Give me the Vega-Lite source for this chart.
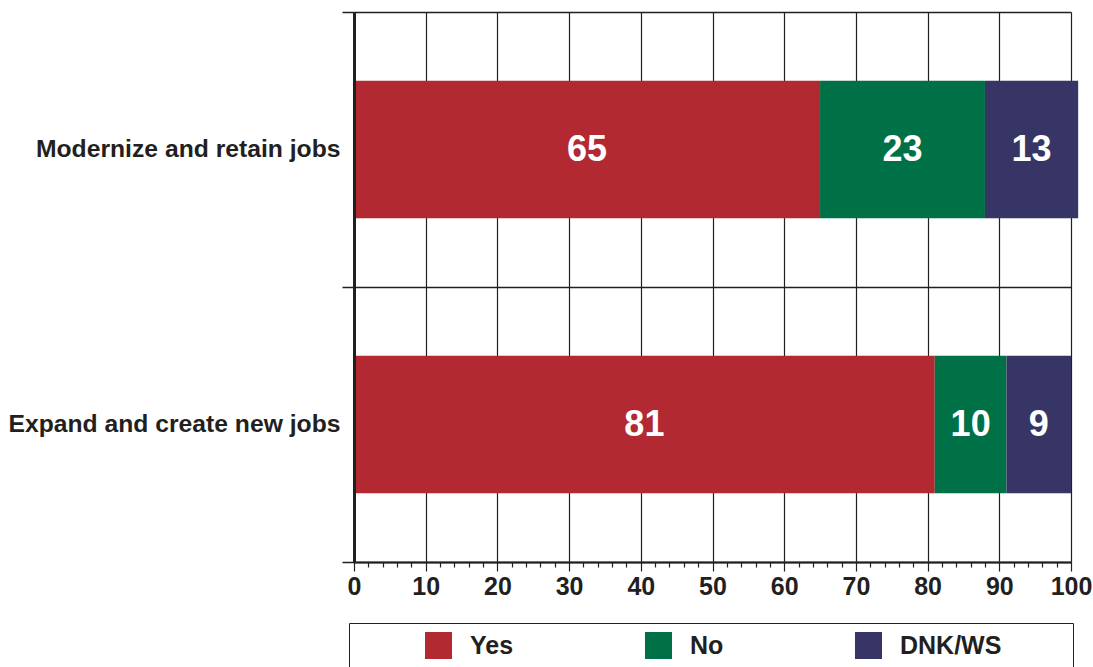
{
  "$schema": "https://vega.github.io/schema/vega-lite/v6.json",
  "autosize": "none",
  "width": 717,
  "height": 550,
  "padding": {"left": 354, "top": 12, "right": 22, "bottom": 105},
  "background": "white",
  "data": {
    "values": [
      {"item": "Modernize and retain jobs", "response": "Yes", "order": 1, "value": 65},
      {"item": "Modernize and retain jobs", "response": "No", "order": 2, "value": 23},
      {"item": "Modernize and retain jobs", "response": "DNK/WS", "order": 3, "value": 13},
      {"item": "Expand and create new jobs", "response": "Yes", "order": 1, "value": 81},
      {"item": "Expand and create new jobs", "response": "No", "order": 2, "value": 10},
      {"item": "Expand and create new jobs", "response": "DNK/WS", "order": 3, "value": 9}
    ]
  },
  "transform": [
    {"stack": "value", "groupby": ["item"], "sort": [{"field": "order"}], "as": ["x0", "x1"]},
    {"calculate": "(datum.x0 + datum.x1) / 2", "as": "mid"}
  ],
  "config": {
    "view": {"stroke": null},
    "font": "Liberation Sans"
  },
  "layer": [
    {
      "mark": {"type": "bar", "height": {"band": 0.5}, "clip": false},
      "encoding": {
        "y": {
          "field": "item", "type": "nominal",
          "sort": ["Modernize and retain jobs", "Expand and create new jobs"],
          "scale": {"paddingInner": 0, "paddingOuter": 0},
          "axis": {
            "title": null, "tickBand": "extent", "grid": true, "gridColor": "#231f20", "gridWidth": 1.5,
            "domainColor": "#231f20", "domainWidth": 3, "tickColor": "#231f20", "tickSize": 12, "tickWidth": 1.5,
            "labelFont": "Liberation Sans", "labelFontSize": 24.7, "labelFontWeight": "bold", "labelColor": "#231f20",
            "labelPadding": 2, "labelLimit": 400, "zindex": 1
          }
        },
        "x": {
          "field": "x0", "type": "quantitative",
          "scale": {"domain": [0, 100], "nice": false},
          "axis": {
            "title": null, "values": [0, 10, 20, 30, 40, 50, 60, 70, 80, 90, 100],
            "grid": true, "gridColor": "#231f20", "gridWidth": 1.2,
            "domainColor": "#231f20", "domainWidth": 2, "tickColor": "#231f20", "tickSize": 9, "tickWidth": 1.2,
            "labelFont": "Liberation Sans", "labelFontSize": 25, "labelFontWeight": "bold", "labelColor": "#231f20",
            "labelPadding": 3, "labelFlush": false, "zindex": 0
          }
        },
        "x2": {"field": "x1"},
        "color": {
          "field": "response", "type": "nominal",
          "scale": {"domain": ["Yes", "No", "DNK/WS"], "range": ["#b22932", "#007147", "#363565"]},
          "legend": {
            "title": "\u00a0", "titleOrient": "left", "titlePadding": 67,
            "orient": "none", "legendX": -5, "legendY": 611, "direction": "horizontal",
            "symbolType": "square", "symbolSize": 729, "symbolStrokeWidth": 0,
            "labelFont": "Liberation Sans", "labelFontSize": 25, "labelFontWeight": "bold", "labelColor": "#231f20",
            "labelOffset": 18, "columnPadding": 131, "padding": 9, "labelLimit": 300,
            "labelExpr": "datum.label == 'DNK/WS' ? 'DNK/WS\u00a0\u00a0\u00a0\u00a0\u00a0\u00a0\u00a0\u00a0\u00a0\u200b' : datum.label",
            "strokeColor": "#231f20", "fillColor": "white"
          }
        },
        "order": {"field": "order"}
      }
    },
    {
      "mark": {"type": "text", "color": "white", "font": "Liberation Sans", "fontSize": 36, "fontWeight": "bold"},
      "encoding": {
        "y": {"field": "item", "type": "nominal", "sort": ["Modernize and retain jobs", "Expand and create new jobs"]},
        "x": {
          "field": "mid", "type": "quantitative",
          "axis": {
            "title": null, "orient": "bottom", "values": [2, 4, 6, 8, 12, 14, 16, 18, 22, 24, 26, 28, 32, 34, 36, 38, 42, 44, 46, 48, 52, 54, 56, 58, 62, 64, 66, 68, 72, 74, 76, 78, 82, 84, 86, 88, 92, 94, 96, 98],
            "labels": false, "grid": false, "domain": false, "tickColor": "#231f20", "tickSize": 5, "tickWidth": 1.2
          }
        },
        "text": {"field": "value", "type": "quantitative"}
      }
    }
  ],
  "resolve": {"axis": {"x": "independent"}}
}
